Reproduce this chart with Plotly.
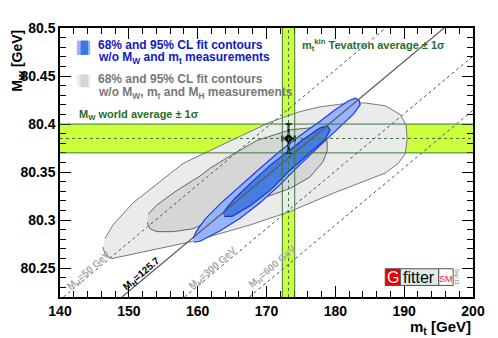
import plotly.graph_objects as go

# 95% / 68% CL contours without MW, mt and MH (grey)
mt_grey95 = [146.25, 146.54, 147.56, 151.63, 156.42, 159.33, 167.62, 173.43, 179.68, 183.60,
             187.24, 189.13, 190.15, 190.44, 190.29, 189.42, 187.24, 184.33, 182.15, 177.79,
             174.88, 170.52, 166.60, 161.37, 157.88, 154.10, 150.61, 147.70, 146.54]
mw_grey95 = [80.272, 80.264, 80.260, 80.266, 80.273, 80.278, 80.295, 80.309, 80.328, 80.339,
             80.349, 80.359, 80.369, 80.384, 80.399, 80.410, 80.419, 80.422, 80.422, 80.418,
             80.413, 80.402, 80.389, 80.371, 80.359, 80.338, 80.318, 80.295, 80.281]
mt_grey68 = [152.65, 153.08, 154.10, 156.42, 159.33, 163.26, 167.62, 169.51, 173.43, 176.34,
             178.23, 178.81, 178.81, 178.23, 176.34, 173.43, 168.63, 164.27, 161.80, 160.35,
             157.01, 154.10, 152.79]
mw_grey68 = [80.298, 80.291, 80.288, 80.288, 80.291, 80.304, 80.319, 80.323, 80.333, 80.345,
             80.361, 80.372, 80.382, 80.392, 80.396, 80.394, 80.383, 80.365, 80.354, 80.346,
             80.331, 80.316, 80.306]

# 95% / 68% CL contours without MW and mt (blue)
mt_blue95 = [159.48, 160.35, 163.26, 166.16, 169.07, 171.98, 174.88, 177.79, 180.70, 182.59,
             183.60, 183.46, 182.88, 181.86, 179.97, 177.79, 174.88, 171.98, 169.07, 166.16,
             163.26, 161.08, 159.77, 159.33]
mw_blue95 = [80.277, 80.278, 80.289, 80.302, 80.318, 80.337, 80.358, 80.378, 80.397, 80.410,
             80.420, 80.425, 80.427, 80.424, 80.415, 80.403, 80.388, 80.372, 80.354, 80.335,
             80.317, 80.301, 80.288, 80.281]
mt_blue68 = [163.84, 165.00, 167.62, 170.52, 173.43, 176.34, 178.52, 179.24, 178.81, 177.79,
             175.32, 172.99, 170.52, 167.62, 165.44, 164.13, 163.69]
mw_blue68 = [80.304, 80.304, 80.315, 80.331, 80.352, 80.370, 80.384, 80.394, 80.398, 80.396,
             80.384, 80.371, 80.357, 80.338, 80.323, 80.312, 80.307]

# SM lines for fixed MH: mt at MW = 80.22 and at MW = 80.50
mh_labels = ["50 GeV", "125.7", "300 GeV", "600 GeV"]
mw_line_ends = [80.22, 80.50]
mt_line_ends = [[140.5, 187.3], [149.0, 195.8], [158.1, 204.9], [167.5, 214.3]]

# measurements
mw_meas, mw_err = 80.385, 0.015
mt_meas, mt_err = 173.2, 0.9

xtickvals = [140, 150, 160, 170, 180, 190, 200]
ytickvals = [80.25, 80.3, 80.35, 80.4, 80.45, 80.5]
yticktext = ["80.25", "80.3", "80.35", "80.4", "80.45", "80.5"]

band_col = "rgb(206,255,60)"
green = "rgb(40,110,40)"
edge_green = "rgb(60,120,60)"
font = "Liberation Sans"

fig = go.Figure()

fig.add_trace(go.Scatter(x=mt_grey95, y=mw_grey95, fill="toself", mode="lines",
                         fillcolor="rgb(235,235,235)", line=dict(color="rgb(120,120,120)", width=1)))
fig.add_trace(go.Scatter(x=mt_grey68, y=mw_grey68, fill="toself", mode="lines",
                         fillcolor="rgb(214,214,214)", line=dict(color="rgb(100,100,100)", width=1)))
fig.add_trace(go.Scatter(x=mt_blue95, y=mw_blue95, fill="toself", mode="lines",
                         fillcolor="rgb(150,180,255)", line=dict(color="rgb(25,60,235)", width=1.2)))
fig.add_trace(go.Scatter(x=mt_blue68, y=mw_blue68, fill="toself", mode="lines",
                         fillcolor="rgb(70,125,225)", line=dict(color="rgb(25,50,210)", width=1.2)))

for lab, mts in zip(mh_labels, mt_line_ends):
    solid = lab == "125.7"
    fig.add_trace(go.Scatter(x=mts, y=mw_line_ends, mode="lines",
                             line=dict(color="rgb(90,90,90)" if solid else "rgb(80,80,80)",
                                       width=1.2 if solid else 1, dash="solid" if solid else "3px,3px")))

# band edges and central values (drawn above the contours)
for v in [mw_meas - mw_err, mw_meas + mw_err]:
    fig.add_shape(type="line", x0=140, x1=200, y0=v, y1=v, line=dict(color=edge_green, width=1), layer="above")
for v in [mt_meas - mt_err, mt_meas + mt_err]:
    fig.add_shape(type="line", x0=v, x1=v, y0=80.22, y1=80.5, line=dict(color=edge_green, width=1), layer="above")
fig.add_shape(type="line", x0=140, x1=200, y0=mw_meas, y1=mw_meas,
              line=dict(color=edge_green, width=1, dash="dot"), layer="above")
fig.add_shape(type="line", x0=mt_meas, x1=mt_meas, y0=80.22, y1=80.5,
              line=dict(color=edge_green, width=1, dash="dot"), layer="above")

# band fills below everything
fig.add_shape(type="rect", x0=140, x1=200, y0=mw_meas - mw_err, y1=mw_meas + mw_err,
              fillcolor=band_col, line_width=0, layer="below")
fig.add_shape(type="rect", x0=mt_meas - mt_err, x1=mt_meas + mt_err, y0=80.22, y1=80.5,
              fillcolor=band_col, line_width=0, layer="below")

fig.add_trace(go.Scatter(x=[mt_meas], y=[mw_meas], mode="markers",
                         marker=dict(color="black", size=7),
                         error_x=dict(type="constant", value=mt_err, color="black", thickness=2, width=3),
                         error_y=dict(type="constant", value=mw_err, color="black", thickness=2, width=3)))

# legend boxes
fig.add_shape(type="rect", xref="paper", yref="paper", x0=0.041, x1=0.073, y0=0.9, y1=0.953,
              fillcolor="rgb(150,180,255)", line_width=0)
fig.add_shape(type="rect", xref="paper", yref="paper", x0=0.05, x1=0.068, y0=0.9, y1=0.953,
              fillcolor="rgb(60,120,225)", line_width=0)
fig.add_shape(type="rect", xref="paper", yref="paper", x0=0.041, x1=0.073, y0=0.78, y1=0.827,
              fillcolor="rgb(235,235,235)", line_width=0)
fig.add_shape(type="rect", xref="paper", yref="paper", x0=0.05, x1=0.068, y0=0.78, y1=0.827,
              fillcolor="rgb(214,214,214)", line_width=0)

ann = []
def txt(x, y, s, color="black", size=11, xanchor="left", xref="paper", yref="paper", angle=0):
    ann.append(dict(x=x, y=y, xref=xref, yref=yref, text=s, showarrow=False, xanchor=xanchor,
                    yanchor="middle", textangle=angle, font=dict(family=font, size=size, color=color)))

blue_t = "rgb(15,25,200)"
grey_t = "rgb(120,120,120)"
txt(0.088, 0.937, "<b>68% and 95% CL fit contours</b>", blue_t, size=12)
txt(0.088, 0.888, "<b>w/o M<sub>W</sub> and m<sub>t</sub> measurements</b>", blue_t, size=12)
txt(0.088, 0.812, "<b>68% and 95% CL fit contours</b>", grey_t, size=12)
txt(0.088, 0.76, "<b>w/o M<sub>W</sub>, m<sub>t</sub> and M<sub>H</sub> measurements</b>", grey_t, size=12)
txt(0.042, 0.678, "<b>M<sub>W</sub> world average ± 1σ</b>", green)
txt(0.58, 0.935, "<b>m<sub>t</sub><sup>kin</sup> Tevatron average ± 1σ</b>", green)

pos = [(144.1, 80.2475), (151.8, 80.2444), (162.2, 80.2505), (170.8, 80.2515)]
for lab, (px, py) in zip(mh_labels, pos):
    col = "black" if lab == "125.7" else "rgb(170,170,170)"
    txt(px, py, "<b>M<sub>H</sub>=" + lab + "</b>", col, size=10, xanchor="center",
        xref="x", yref="y", angle=-40.7)

# axis titles
ann.append(dict(x=-0.102, y=1.0, xref="paper", yref="paper", text="<b>M<sub>W</sub> [GeV]</b>",
                showarrow=False, textangle=-90, xanchor="center", yanchor="top",
                font=dict(family=font, size=14, color="black")))
ann.append(dict(x=1.0, y=-0.07, xref="paper", yref="paper", text="<b>m<sub>t</sub> [GeV]</b>",
                showarrow=False, xanchor="right", yanchor="top",
                font=dict(family=font, size=15, color="black")))

# Gfitter logo
fig.add_shape(type="rect", xref="paper", yref="paper", x0=0.7875, x1=0.824, y0=0.043, y1=0.105,
              fillcolor="rgb(230,0,0)", line=dict(color="rgb(80,80,80)", width=1))
fig.add_shape(type="rect", xref="paper", yref="paper", x0=0.824, x1=0.917, y0=0.043, y1=0.105,
              fillcolor="rgb(222,235,235)", line=dict(color="rgb(80,80,80)", width=1))
fig.add_shape(type="rect", xref="paper", yref="paper", x0=0.917, x1=0.952, y0=0.043, y1=0.105,
              fillcolor="white", line=dict(color="rgb(80,80,80)", width=1))
txt(0.806, 0.074, "G", "white", size=16, xanchor="center")
txt(0.870, 0.074, "fitter", "black", size=16, xanchor="center")
txt(0.935, 0.068, "SM", "rgb(230,30,30)", size=9, xanchor="center")
txt(0.962, 0.074, "Sep 13", "rgb(120,120,120)", size=5, xanchor="center", angle=90)

axis = dict(showgrid=False, zeroline=False, showline=True, linecolor="black", linewidth=1.5,
            mirror="ticks", ticks="inside", ticklen=11, tickcolor="black", tickwidth=1.2,
            tickfont=dict(family=font, size=14, color="black", weight="bold"))

# page body has an 8px margin, so the figure is shrunk by that amount
fig.update_layout(
    width=490, height=330, margin=dict(l=52, r=25, t=12, b=41),
    plot_bgcolor="white", paper_bgcolor="white", showlegend=False,
    xaxis=dict(range=[140, 200], tickvals=xtickvals,
               minor=dict(dtick=2, ticks="inside", ticklen=6, tickcolor="black"), **axis),
    yaxis=dict(range=[80.22, 80.5], tickvals=ytickvals, ticktext=yticktext,
               minor=dict(dtick=0.01, tick0=80.2, ticks="inside", ticklen=6, tickcolor="black"), **axis),
    annotations=ann,
)

fig.write_html("out.html")
